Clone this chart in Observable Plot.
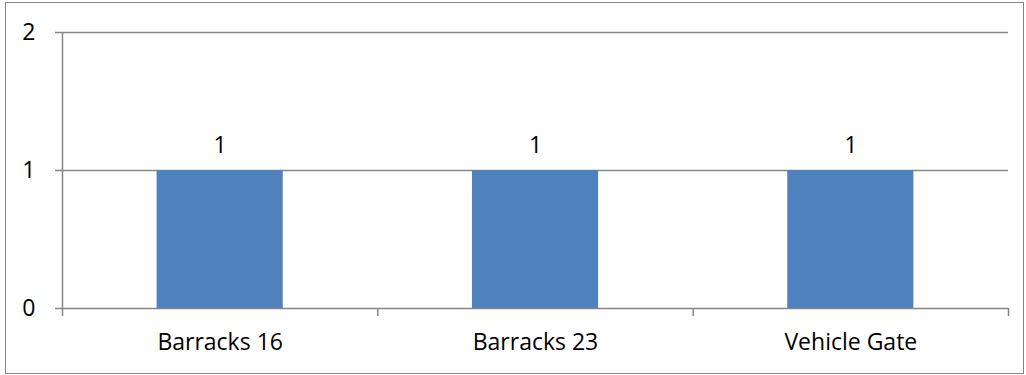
<!DOCTYPE html>
<html><head><meta charset="utf-8">
<script src="https://cdn.jsdelivr.net/npm/d3@7"></script>
<script src="https://cdn.jsdelivr.net/npm/@observablehq/plot@0.6"></script>
<style>
body{margin:0;background:#fff;}
#wrap{position:relative;width:1026px;height:375px;}
#border{position:absolute;left:5px;top:2px;width:1017px;height:370px;border:1.5px solid #868686;pointer-events:none;}
svg{font-family:"Open Sans",sans-serif;}
</style></head>
<body><div id="wrap"><div id="border"></div></div>
<script>
const categories = ["Barracks 16", "Barracks 23", "Vehicle Gate"];
const counts = [1, 1, 1];
const yTicks = [0, 1, 2];

const data = categories.map((c, i) => ({i, c, v: counts[i]}));
const boundaries = d3.range(categories.length + 1).map(i => i - 0.5);
const grey = "#868686";

const chart = Plot.plot({
  width: 1026, height: 375,
  marginLeft: 62, marginRight: 18, marginTop: 32, marginBottom: 67,
  style: {fontFamily: "Open Sans, sans-serif", background: "transparent"},
  x: {type: "linear", domain: [-0.5, categories.length - 0.5]},
  y: {domain: [0, 2]},
  marks: [
    Plot.gridY(yTicks.filter(t => t > 0), {stroke: grey, strokeOpacity: 1, strokeWidth: 1.5}),
    Plot.rectY(data, {x1: d => d.i - 0.2, x2: d => d.i + 0.2, y1: 0, y2: "v", fill: "#4F81BD"}),
    Plot.ruleY([0], {stroke: grey, strokeWidth: 1.5}),
    Plot.ruleX([-0.5], {y1: 0, y2: 2, stroke: grey, strokeWidth: 1.5}),
    Plot.ruleX(boundaries, {x: d => d, y1: 0, y2: 0, insetBottom: -8, stroke: grey, strokeWidth: 1.5}),
    Plot.axisY({ticks: yTicks, tickSize: 7, tickPadding: 20, stroke: grey, strokeWidth: 1.5, fontSize: 23, fill: "#000", tickFormat: d => String(d), label: null}),
    Plot.axisX({ticks: data.map(d => d.i), tickSize: 0, tickPadding: 25, fontSize: 23, fill: "#000", tickFormat: i => categories[i], label: null}),
    Plot.text(data, {x: "i", y: "v", text: d => String(d.v), dy: -25, fontSize: 23, fill: "#000", lineAnchor: "middle"})
  ]
});
document.getElementById("wrap").prepend(chart);
</script>
</body></html>
